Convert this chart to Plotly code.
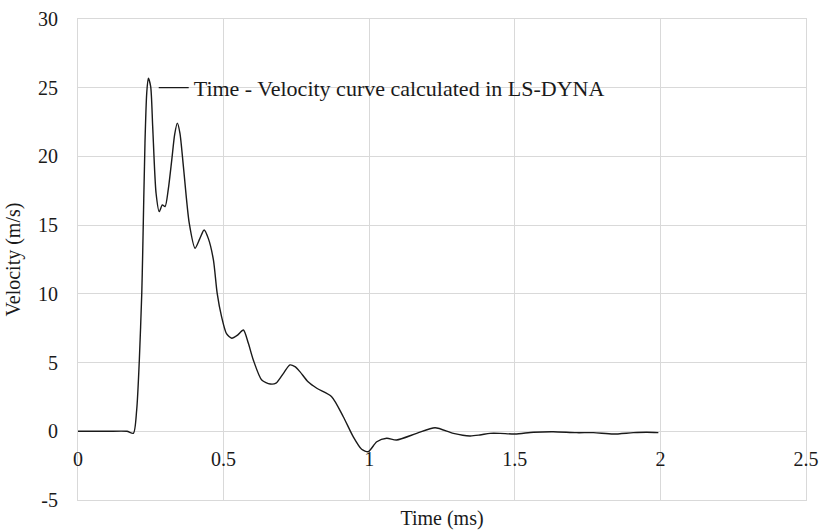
import plotly.graph_objects as go

# Time (ms) and velocity (m/s) samples of the LS-DYNA result
time_ms = [0.0, 0.10, 0.168, 0.19, 0.2015, 0.2106, 0.219, 0.222, 0.230, 0.236, 0.2415,
           0.2496, 0.2565, 0.268, 0.279, 0.2896, 0.299, 0.31, 0.322, 0.332, 0.341,
           0.35, 0.362, 0.382, 0.402, 0.418, 0.433, 0.448, 0.465, 0.478, 0.493,
           0.51, 0.528, 0.548, 0.568, 0.585, 0.602, 0.631, 0.66, 0.68, 0.705,
           0.728, 0.745, 0.762, 0.79, 0.82, 0.871, 0.911, 0.945, 0.974, 0.997,
           1.026, 1.06, 1.094, 1.163, 1.226, 1.289, 1.346, 1.38, 1.415, 1.449,
           1.501, 1.564, 1.632, 1.712, 1.77, 1.838, 1.907, 1.953, 1.993]
velocity = [0.0, 0.0, 0.0, -0.15, 1.55, 5.19, 10.04, 12.8, 21.0, 24.6, 25.7,
            25.08, 22.17, 17.34, 15.98, 16.47, 16.35, 17.6, 19.75, 21.6, 22.42,
            21.7, 19.26, 15.14, 13.32, 14.0, 14.65, 14.0, 12.47, 10.04, 8.34,
            7.1, 6.77, 7.0, 7.37, 6.4, 5.19, 3.73, 3.44, 3.5, 4.2,
            4.83, 4.7, 4.34, 3.6, 3.13, 2.52, 1.06, -0.39, -1.31, -1.48,
            -0.76, -0.51, -0.63, -0.15, 0.26, -0.15, -0.34, -0.27, -0.15, -0.15,
            -0.2, -0.07, -0.03, -0.1, -0.1, -0.2, -0.1, -0.07, -0.1]

x_ticks = [0, 0.5, 1, 1.5, 2, 2.5]
x_tick_text = ["0", "0.5", "1", "1.5", "2", "2.5"]
y_ticks = [-5, 0, 5, 10, 15, 20, 25, 30]
y_tick_text = ["-5", "0", "5", "10", "15", "20", "25", "30"]

FONT = "Times New Roman, Liberation Serif, serif"
GRID = "#d9d9d9"

fig = go.Figure()
fig.add_trace(go.Scatter(
    x=time_ms, y=velocity, mode="lines",
    name="Time - Velocity curve calculated in LS-DYNA",
    line=dict(color="#1a1a1a", width=1.4, shape="spline", smoothing=0.7),
))
# Label-only axis so the tick numbers sit just under the zero line
fig.add_trace(go.Scatter(x=[0, 2.5], y=[0, 0], xaxis="x2", mode="lines",
                         line=dict(width=0), showlegend=False, hoverinfo="skip"))

fig.update_layout(
    width=823, height=531,
    margin=dict(l=78, r=17, t=19, b=31, autoexpand=False),
    paper_bgcolor="white", plot_bgcolor="white",
    font=dict(family=FONT, size=20, color="#1a1a1a"),
    showlegend=True,
    legend=dict(x=0.104, y=0.857, xanchor="left", yanchor="middle",
                bgcolor="rgba(0,0,0,0)", font=dict(family=FONT, size=22),
                itemwidth=30),
    xaxis=dict(range=[0, 2.5], tickvals=x_ticks, showticklabels=False,
               showgrid=True, gridcolor=GRID, gridwidth=1, zeroline=False,
               showline=True, linecolor=GRID, linewidth=1, mirror=True,
               ticks="", automargin=False,
               title=dict(text="Time (ms)", font=dict(family=FONT, size=20),
                          standoff=10)),
    xaxis2=dict(range=[0, 2.5], tickvals=x_ticks, ticktext=x_tick_text,
                overlaying="x", anchor="free", position=0.115, side="bottom",
                showgrid=False, zeroline=False, showline=False, ticks="",
                automargin=False, tickfont=dict(family=FONT, size=20)),
    yaxis=dict(range=[-5, 30], tickvals=y_ticks, ticktext=y_tick_text,
               showgrid=True, gridcolor=GRID,
               gridwidth=1, zeroline=True, zerolinecolor=GRID, zerolinewidth=1,
               showline=True, linecolor=GRID, linewidth=1, mirror=True,
               ticks="", ticklabelstandoff=15, automargin=False,
               tickfont=dict(family=FONT, size=20),
               title=dict(text="Velocity (m/s)", font=dict(family=FONT, size=20),
                          standoff=12)),
)

fig.write_html("out.html")
